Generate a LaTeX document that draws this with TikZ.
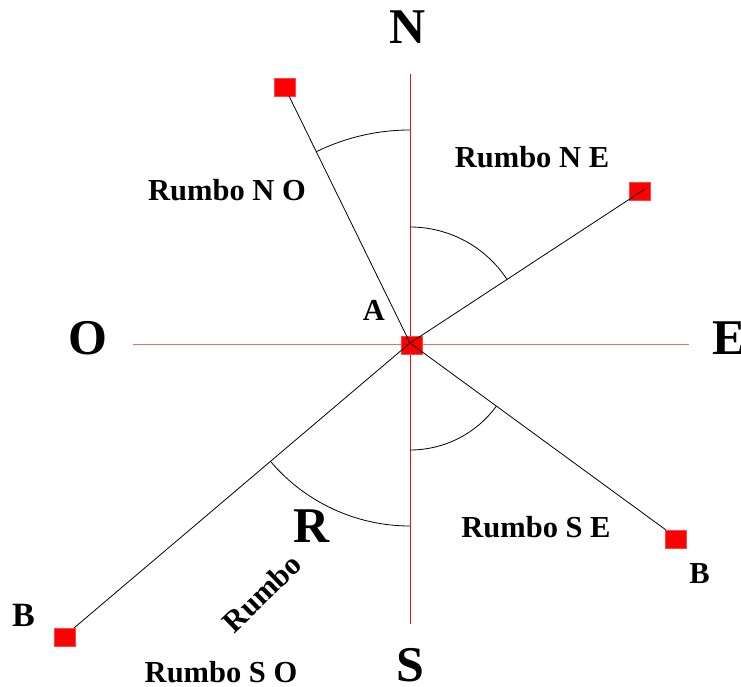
\documentclass[tikz,border=0pt]{standalone}
\usepackage{fontspec}
\setmainfont{Liberation Serif}
\usetikzlibrary{calc}
\definecolor{vred}{RGB}{240,20,20}
\definecolor{hred}{RGB}{246,105,105}
\begin{document}
\begin{tikzpicture}[x=1pt,y=1pt,
  pt/.style={draw={rgb,255:red,255;green,70;blue,70},fill=red,minimum width=21pt,minimum height=18pt,inner sep=0pt,line width=0.6pt},
  rline/.style={line width=1pt},
  bline/.style={black,line width=0.8pt},
  big/.style={inner sep=0pt,font=\bfseries\fontsize{50}{50}\selectfont},
  lab/.style={inner sep=0pt,font=\bfseries\fontsize{30.5}{31}\selectfont}]
\useasboundingbox (0,0) rectangle (741,686);
% axes
\coordinate (ntop) at (410.5,612);
\coordinate (sbot) at (410.5,62);
\coordinate (wend) at (133,341.5);
\coordinate (eend) at (689,341.5);
\draw[rline,draw=vred] (ntop) -- (sbot);
\draw[rline,draw=hred] (wend) -- (eend);
% points
\coordinate (A) at (410,343);
\node[pt] (sqA) at (412,341) {};
\node[pt] (sqNW) at (285,599) {};
\node[pt] (sqNE) at (640,495) {};
\node[pt] (sqSE) at (676,147) {};
\node[pt] (sqSW) at (65,49) {};
\coordinate (eNW) at (289,590);
\coordinate (eNE) at (645,497);
\coordinate (eSE) at (666,156);
\coordinate (eSW) at (74,58);
\draw[bline] (A) -- (eNW);
\draw[bline] (A) -- (eNE);
\draw[bline] (A) -- (eSE);
\draw[bline] (A) -- (eSW);
% arcs
\draw[bline] ($(A)+(90:213)$) arc[start angle=90,end angle=116.1,radius=213];
\draw[bline] ($(A)+(90:116)$) arc[start angle=90,end angle=33.2,radius=116];
\draw[bline] ($(A)+(-90:107)$) arc[start angle=-90,end angle=-36.15,radius=107];
\draw[bline] ($(A)+(270:183)$) arc[start angle=270,end angle=220.3,radius=183];
% labels
\node[big] (tN) at (408,658.5) {N};
\node[big] (tO) at (87.5,347.5) {O};
\node[big] (tE) at (729,348) {E};
\node[big] (tS) at (410,21) {S};
\node[big] (tR) at (311.5,160) {R};
\node[lab] (tNO) at (227,496) {Rumbo N O};
\node[lab] (tNE) at (532,529) {Rumbo N E};
\node[lab] (tA) at (374,376) {A};
\node[lab] (tSE) at (536,159) {Rumbo S E};
\node[lab] (tB1) at (699.5,112.5) {B};
\node[lab,font=\bfseries\fontsize{34}{34}\selectfont] (tB2) at (23.5,71) {B};
\node[lab,rotate=44] (tRu) at (262,93) {Rumbo};
\node[lab] (tSO) at (221,13.5) {Rumbo S O};
\end{tikzpicture}
\end{document}
